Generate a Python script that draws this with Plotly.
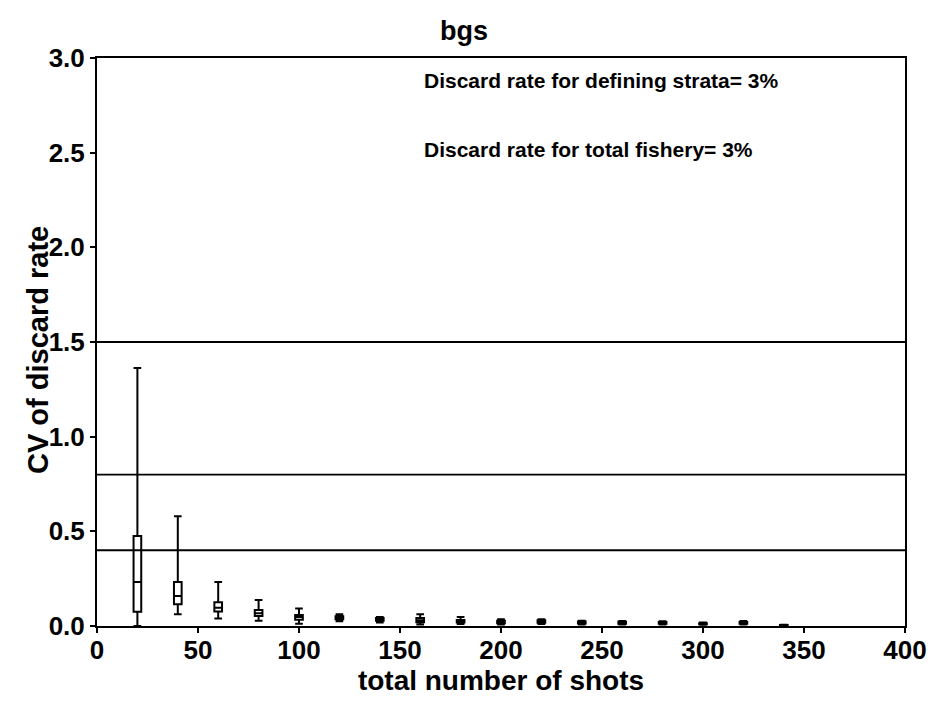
import plotly.graph_objects as go

# Number of shots sampled and summary statistics of the CV of the discard rate
shots = [20, 40, 60, 80, 100, 120, 140, 160, 180, 200, 220, 240, 260, 280, 300, 320, 340]
cv_low = [0.0, 0.062, 0.040, 0.028, 0.012, 0.025, 0.018, 0.008, 0.010, 0.008, 0.010, 0.008, 0.008, 0.008, 0.006, 0.008, 0.002]
cv_q1 = [0.075, 0.115, 0.076, 0.053, 0.033, 0.035, 0.028, 0.020, 0.018, 0.015, 0.017, 0.013, 0.012, 0.012, 0.009, 0.012, 0.003]
cv_median = [0.232, 0.159, 0.097, 0.067, 0.048, 0.042, 0.036, 0.030, 0.026, 0.022, 0.024, 0.019, 0.017, 0.016, 0.012, 0.016, 0.004]
cv_q3 = [0.476, 0.232, 0.125, 0.085, 0.058, 0.052, 0.042, 0.042, 0.032, 0.028, 0.030, 0.024, 0.022, 0.021, 0.015, 0.021, 0.005]
cv_high = [1.363, 0.580, 0.232, 0.137, 0.092, 0.062, 0.048, 0.062, 0.048, 0.035, 0.036, 0.028, 0.026, 0.025, 0.018, 0.026, 0.006]

# Reference CV thresholds
thresholds = [0.4, 0.8, 1.5]

notes = ["Discard rate for defining strata= 3%", "Discard rate for total fishery= 3%"]
note_y = [2.88, 2.515]

FONT = "Arial, Liberation Sans, sans-serif"

fig = go.Figure()

fig.add_trace(go.Box(
    x=shots,
    q1=cv_q1,
    median=cv_median,
    q3=cv_q3,
    lowerfence=cv_low,
    upperfence=cv_high,
    width=3.8,
    whiskerwidth=1,
    fillcolor="white",
    line=dict(color="black", width=2),
    boxpoints=False,
    showlegend=False,
))

for t in thresholds:
    fig.add_trace(go.Scatter(
        x=[0, 400], y=[t, t], mode="lines",
        line=dict(color="black", width=1.8),
        showlegend=False, hoverinfo="skip",
    ))

for txt, yv in zip(notes, note_y):
    fig.add_annotation(
        x=161, y=yv, xref="x", yref="y", text=txt, showarrow=False,
        xanchor="left", yanchor="middle",
        font=dict(family=FONT, size=21, color="black", weight="bold"),
    )

# y-axis title drawn as a rotated annotation so it sits over the tick labels
fig.add_annotation(
    x=0, y=0.5, xref="paper", yref="paper", text="CV of discard rate",
    showarrow=False, textangle=-90, xanchor="center", yanchor="middle",
    xshift=-59, yshift=-8,
    font=dict(family=FONT, size=29, color="black", weight="bold"),
)

fig.update_layout(
    width=928, height=704,
    margin=dict(l=97, r=23, t=58, b=78),
    paper_bgcolor="white", plot_bgcolor="white",
    title=dict(text="bgs", x=0.5, xanchor="center", y=0.957, yanchor="middle",
               font=dict(family=FONT, size=27, color="black", weight="bold")),
    xaxis=dict(
        range=[0, 400], tickmode="linear", tick0=0, dtick=50,
        showgrid=False, zeroline=False, automargin=False,
        showline=True, linecolor="black", linewidth=2, mirror=True,
        ticks="outside", ticklen=5, tickwidth=1.5, tickcolor="black",
        ticklabelstandoff=-5,
        tickfont=dict(family=FONT, size=26, color="black", weight="bold"),
        title=dict(text="total number of shots", standoff=0,
                   font=dict(family=FONT, size=28, color="black", weight="bold")),
    ),
    yaxis=dict(
        range=[0, 3], tickmode="linear", tick0=0, dtick=0.5, tickformat=".1f",
        showgrid=False, zeroline=False, automargin=False,
        showline=True, linecolor="black", linewidth=2, mirror=True,
        ticks="outside", ticklen=5, tickwidth=1.5, tickcolor="black",
        tickfont=dict(family=FONT, size=26, color="black", weight="bold"),
    ),
)

fig.write_html("out.html")
